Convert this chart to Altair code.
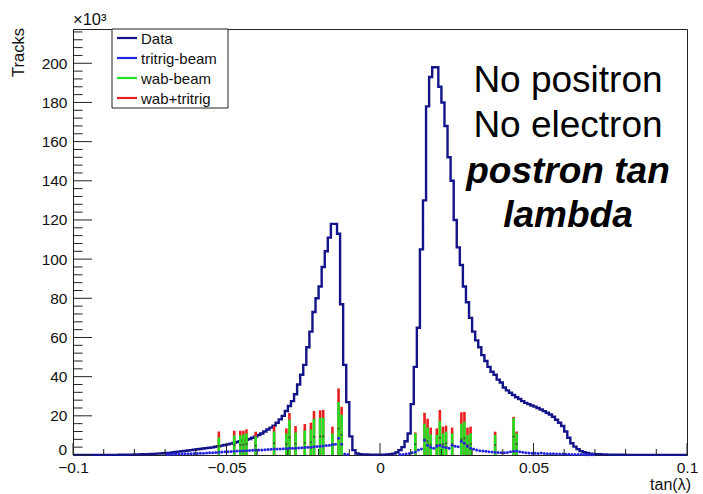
import altair as alt
import pandas as pd

# ---------------- data ----------------
x_lo, bin_width = -0.1, 0.001

data_counts = (
    [0.05] * 10 + [0.08] * 5 +
    [0.12, 0.14, 0.16, 0.18, 0.2, 0.25, 0.3, 0.35, 0.4, 0.45, 0.5, 0.6, 0.7, 0.8, 0.9] +
    [1.0, 1.1, 1.3, 1.5, 1.7, 1.9, 2.1, 2.3, 2.5, 2.7] +
    [2.9, 3.1, 3.3, 3.5, 3.7, 3.9, 4.2, 4.5, 4.8, 5.1] +
    [5.4, 5.8, 6.2, 6.6, 7.0, 7.4, 7.8, 8.2, 8.8, 9.4] +
    [10.2, 11, 12, 13, 14, 15, 16.5, 18.2, 20, 22.5] +
    [25, 27.5, 31, 36, 41, 46, 55, 63, 73, 80] +
    [86, 96, 104, 111, 118, 118, 113, 77, 46, 27] +
    [9.5, 2.5, 0.8, 0.4, 0.3, 0.3, 0.2, 0.2, 0.2, 0.2] +
    [0.2, 0.2, 0.3, 0.4, 0.7, 1.3, 2.5, 4, 7, 11] +
    [26, 45, 65, 105, 130, 178, 193, 198, 198, 188] +
    [180, 168, 152, 140, 120, 106, 97, 86, 78, 70] +
    [63, 58.5, 55, 51, 48, 45, 42.5, 41, 38.5, 37] +
    [34.5, 33, 31.8, 30.6, 29.5, 28.6, 27.5, 26.6, 26, 25.3] +
    [24.7, 24, 23.2, 22.4, 21.6, 20.7, 19.5, 18, 16.5, 14.8] +
    [12, 8.8, 6, 4.3, 3, 2, 1.4, 1, 0.7, 0.5] +
    [0.4, 0.35, 0.3, 0.25, 0.2, 0.2, 0.15, 0.15, 0.1, 0.1] +
    [0.05] * 20
)

tritrig_counts = (
    [0] * 30 +
    [0.3, 0.35, 0.4, 0.45, 0.5, 0.55, 0.6, 0.65, 0.7, 0.75, 0.8, 0.85, 0.9, 1.0, 1.1] +
    [1.2, 1.3, 1.4, 1.5, 1.6, 1.7, 1.8, 1.9, 2.0, 2.0, 2.1, 2.2, 2.3, 2.4, 2.5, 2.5] +
    [2.6, 2.7, 2.8, 2.9, 3.0, 3.0, 3.1, 3.2, 3.3, 3.4, 3.5, 3.5, 3.6, 3.7, 3.8] +
    [3.9, 4.0, 4.2, 4.3, 4.5, 4.6, 4.8, 5.0, 5.2] +
    [5.5, 8.5, 5.5, 0.5, 0.2] +
    [0] * 16 +
    [0.2, 0.3, 0.5, 0.8, 1.2, 1.5, 2.5, 3, 7.5, 5, 4, 3.5, 4.5, 5] +
    [4.2, 3.8, 3.4, 5, 4.5, 4.2, 7, 6, 4.5, 3.5] +
    [3.0, 2.5, 2.2, 2.0, 1.9, 1.7, 1.5, 1.4, 1.3, 1.2] +
    [1.2, 1.3, 1.6, 1.9, 2.0, 1.7, 1.4, 1.2, 1.0, 0.9] +
    [0.9, 0.8, 1.0, 0.8, 0.7, 0.6, 0.6, 0.5, 0.5, 0.5] +
    [0.4, 0.35, 0.3, 0.3, 0.25, 0.2, 0.2, 0.15, 0.15, 0.1] +
    [0] * 30
)

spike_x = [-0.0525, -0.0475, -0.0455, -0.0445, -0.0435, -0.0405, -0.0345, -0.0305,
           -0.0295, -0.0275, -0.0245, -0.0225, -0.0215, -0.0195, -0.0185, -0.0155,
           -0.0135, -0.0125, 0.0115, 0.0145, 0.0155, 0.0165, 0.0185, 0.0195, 0.0205,
           0.0215, 0.0235, 0.0265, 0.0275, 0.0285, 0.0295, 0.0375, 0.0435, 0.0445]
wab_top = [9, 10, 10, 10.5, 11, 9.5, 12, 11, 18, 11.5, 12.5, 13, 18.5, 19, 19, 11,
           27, 20.5, 11, 16, 14, 10.5, 10.2, 17.5, 11, 11.9, 11, 16, 17, 10.2, 11,
           10.2, 18.8, 11]
sum_top = [12, 12.4, 12.4, 12.4, 13.1, 11.9, 14.8, 13.6, 21.5, 14.8, 15.8, 16.5, 22.5,
           22.8, 23, 14.5, 34, 24.6, 11.5, 21.5, 18.5, 14, 13.6, 23, 14.5, 15, 14,
           21.8, 22, 14, 14.5, 11.9, 19.5, 12]

x_label_values = [-0.1, -0.05, 0, 0.05, 0.1]
x_minor_ticks = [-0.09, -0.08, -0.07, -0.06, -0.04, -0.03, -0.02, -0.01,
                 0.01, 0.02, 0.03, 0.04, 0.06, 0.07, 0.08, 0.09]
y_label_values = [20, 40, 60, 80, 100, 120, 140, 160, 180, 200]
y_zero_label = "0"
y_major_ticks = [0, 20, 40, 60, 80, 100, 120, 140, 160, 180, 200]
y_minor_ticks = [4, 8, 12, 16, 24, 28, 32, 36, 44, 48, 52, 56, 64, 68, 72, 76,
                 84, 88, 92, 96, 104, 108, 112, 116, 124, 128, 132, 136, 144, 148,
                 152, 156, 164, 168, 172, 176, 184, 188, 192, 196, 204, 208, 212, 216]

legend_labels = ["Data", "tritrig-beam", "wab-beam", "wab+tritrig"]
legend_colors = ["#14148a", "#2424dd", "#22e022", "#e82020"]
note_lines = ["No positron", "No electron", "postron tan", "lambda"]

# ---------------- tables ----------------
n = len(data_counts)
edges = [round(x_lo + bin_width * i, 4) for i in range(n + 1)]
centers = [round(x_lo + bin_width * (i + 0.5), 5) for i in range(n)]
step_df = pd.DataFrame({"x": edges, "y": data_counts + [data_counts[-1]]})
tt_df = pd.DataFrame({"x": centers, "y": tritrig_counts})
tt_df = tt_df[tt_df["y"] > 0]
spk_df = pd.DataFrame({"x": spike_x, "g": wab_top, "r": sum_top})
spk_df["mid"] = spk_df["g"] / 2
xmaj_df = pd.DataFrame({"x": x_label_values})
xmin_df = pd.DataFrame({"x": x_minor_ticks})
ymaj_df = pd.DataFrame({"y": y_major_ticks})
ymin_df = pd.DataFrame({"y": y_minor_ticks})
one = pd.DataFrame({"a": [0]})

W, H = 614, 426
FONT = "Liberation Sans"
AX = "#222222"

xs = alt.Scale(domain=[-0.1, 0.1], nice=False, zero=False)
ys = alt.Scale(domain=[0, 217.5], nice=False, zero=False)

x_axis = alt.Axis(values=x_label_values, format=".2~f", ticks=False, grid=False,
                  labelFont=FONT, labelFontSize=15.5, labelColor="#111",
                  labelPadding=5, labelFlush=False, labelOverlap=False, labelBound=False,
                  domainColor=AX, domainWidth=1, title=None)
y_axis = alt.Axis(values=y_label_values, format="d", ticks=False, grid=False,
                  labelFont=FONT, labelFontSize=15.5, labelColor="#111",
                  labelPadding=6, labelFlush=False, labelOverlap=False, labelBound=False,
                  domainColor=AX, domainWidth=1, title=None)


def X(field):
    return alt.X(field, scale=xs, axis=x_axis, title=None)


def Y(field):
    return alt.Y(field, scale=ys, axis=y_axis, title=None)


data_line = alt.Chart(step_df).mark_line(
    interpolate="step-after", color=legend_colors[0], strokeWidth=2.4
).encode(x=X("x:Q"), y=Y("y:Q"))

red_bars = alt.Chart(spk_df).mark_rule(color=legend_colors[3], strokeWidth=2.6).encode(
    x=X("x:Q"), y=Y("r:Q"), y2=alt.datum(0))
green_bars = alt.Chart(spk_df).mark_rule(color=legend_colors[2], strokeWidth=2.6).encode(
    x=X("x:Q"), y=Y("g:Q"), y2=alt.datum(0))
mid_marks = alt.Chart(spk_df).mark_point(filled=True, color="#335533", size=5, opacity=0.9).encode(
    x=X("x:Q"), y=Y("mid:Q"))
tt_points = alt.Chart(tt_df).mark_point(filled=True, color=legend_colors[1], size=9, opacity=1).encode(
    x=X("x:Q"), y=Y("y:Q"))

# axis ticks pointing inward (ROOT style)
xmaj_ticks = alt.Chart(xmaj_df).mark_rule(color=AX, strokeWidth=1).encode(
    x=X("x:Q"), y=alt.value(H), y2=alt.value(H - 12))
xmin_ticks = alt.Chart(xmin_df).mark_rule(color=AX, strokeWidth=1).encode(
    x=X("x:Q"), y=alt.value(H), y2=alt.value(H - 6))
ymaj_ticks = alt.Chart(ymaj_df).mark_rule(color=AX, strokeWidth=1).encode(
    y=Y("y:Q"), x=alt.value(0), x2=alt.value(19))
ymin_ticks = alt.Chart(ymin_df).mark_rule(color=AX, strokeWidth=1).encode(
    y=Y("y:Q"), x=alt.value(0), x2=alt.value(9.5))

layers = [data_line, red_bars, green_bars, mid_marks, tt_points,
          xmaj_ticks, xmin_ticks, ymaj_ticks, ymin_ticks]

# y "0" label, raised slightly as ROOT draws it
layers.append(alt.Chart(one).mark_text(
    text=y_zero_label, font=FONT, fontSize=15.5, align="right", baseline="middle", color="#111"
).encode(x=alt.value(-6), y=alt.value(H - 5)))

# legend (manual, ROOT style box)
layers.append(alt.Chart(one).mark_rect(fill="white", stroke="#222", strokeWidth=1).encode(
    x=alt.value(39), x2=alt.value(155), y=alt.value(0), y2=alt.value(79)))
for k, (lab, col) in enumerate(zip(legend_labels, legend_colors)):
    yk = 9 + 20 * k
    layers.append(alt.Chart(one).mark_rule(color=col, strokeWidth=2.2).encode(
        x=alt.value(44), x2=alt.value(64), y=alt.value(yk)))
    layers.append(alt.Chart(one).mark_text(
        text=lab, font=FONT, fontSize=15, align="left", baseline="middle", color="#111"
    ).encode(x=alt.value(68), y=alt.value(yk + 0.5)))

# axis titles and multiplier
layers.append(alt.Chart(one).mark_text(
    text="Tracks", font=FONT, fontSize=16.5, angle=270, align="right", baseline="middle", color="#111"
).encode(x=alt.value(-54.5), y=alt.value(-1)))
layers.append(alt.Chart(one).mark_text(
    text="tan(λ)", font=FONT, fontSize=16, align="right", baseline="alphabetic", color="#111"
).encode(x=alt.value(618), y=alt.value(461)))
layers.append(alt.Chart(one).mark_text(
    text="×10³", font=FONT, fontSize=16.5, align="left", baseline="alphabetic", color="#111"
).encode(x=alt.value(0), y=alt.value(-4)))

# annotation text
note_y = [63, 108, 154, 198]
for k, line in enumerate(note_lines):
    bold = k >= 2
    layers.append(alt.Chart(one).mark_text(
        text=line, font=FONT, fontSize=37, align="center", baseline="alphabetic",
        color="#000", fontWeight="bold" if bold else "normal",
        fontStyle="italic" if bold else "normal"
    ).encode(x=alt.value(495), y=alt.value(note_y[k])))

chart = alt.layer(*layers).properties(
    width=W, height=H,
    padding={"left": 73, "top": 29, "right": 16, "bottom": 39},
    autosize=alt.AutoSizeParams(type="none"),
    background="white",
).configure_view(stroke=AX, strokeWidth=1)

chart.save("out.html", embed_options={"renderer": "svg", "actions": False})
